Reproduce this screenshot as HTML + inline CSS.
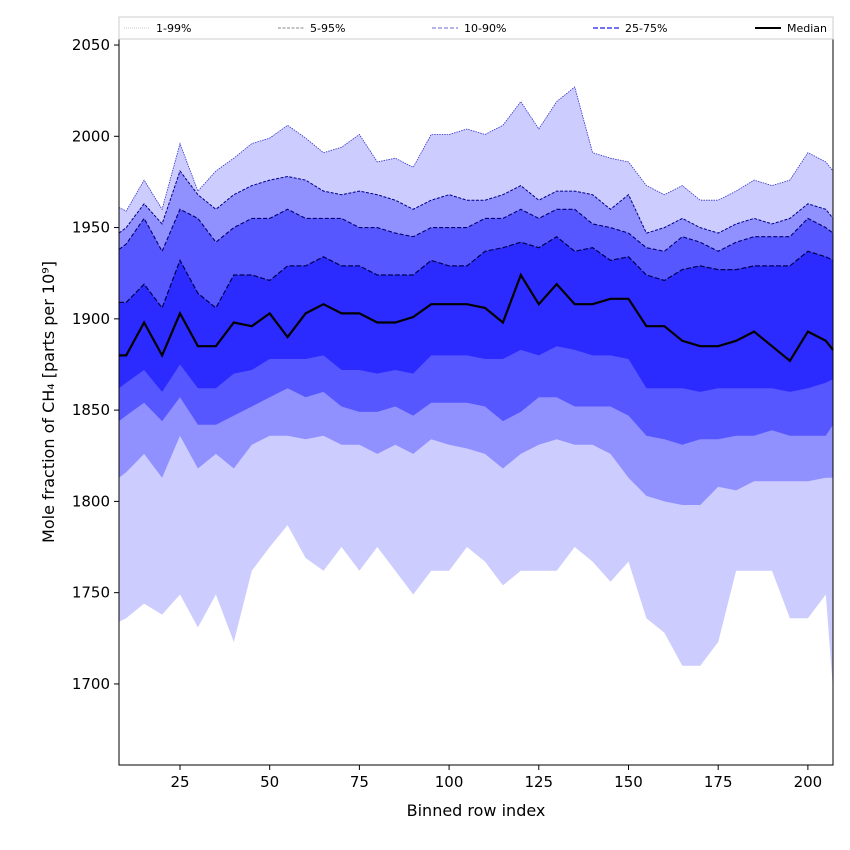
<!DOCTYPE html>
<html><head><meta charset="utf-8">
<style>
html,body{margin:0;padding:0;background:#fff;}
svg{display:block;font-family:"DejaVu Sans","Liberation Sans",sans-serif;}
</style></head>
<body>
<svg id="chart" width="850" height="850" viewBox="0 0 850 850" xmlns="http://www.w3.org/2000/svg">
<g id="bands"></g>
<g id="lines"></g>
<rect x="119" y="39" width="714" height="726" fill="none" stroke="#000" stroke-width="1"/>
<g id="xticks"></g>
<g id="yticks"></g>
<text x="476" y="816" font-size="16" text-anchor="middle">Binned row index</text>
<text transform="translate(54,402) rotate(-90)" font-size="16" text-anchor="middle">Mole fraction of CH₄ [parts per 10⁹]</text>
<g>
<rect x="119" y="17" width="714" height="22" fill="#fff" stroke="#ccc" stroke-width="1"/>
<g><line x1="124" y1="28" x2="150" y2="28" stroke="#c8c8c8" stroke-width="1" stroke-dasharray="1,1"/><text x="156" y="32" font-size="11">1-99%</text></g>
<g><line x1="278" y1="28" x2="304" y2="28" stroke="#888" stroke-width="1" stroke-dasharray="3,1.5"/><text x="310" y="32" font-size="11">5-95%</text></g>
<g><line x1="432" y1="28" x2="458" y2="28" stroke="#8888dd" stroke-width="1.2" stroke-dasharray="4,2"/><text x="464" y="32" font-size="11">10-90%</text></g>
<g><line x1="593" y1="28" x2="619" y2="28" stroke="#4444ee" stroke-width="1.4" stroke-dasharray="5,2"/><text x="625" y="32" font-size="11">25-75%</text></g>
<g><line x1="755" y1="28" x2="781" y2="28" stroke="#000" stroke-width="2"/><text x="787" y="32" font-size="11">Median</text></g>
</g>
</svg>
<script>
const xs = [8,10,15,20,25,30,35,40,45,50,55,60,65,70,75,80,85,90,95,100,105,110,115,120,125,130,135,140,145,150,155,160,165,170,175,180,185,190,195,200,205,207];
const p99 = [1961,1959,1976,1960,1996,1970,1981,1988,1996,1999,2006,1999,1991,1994,2001,1986,1988,1983,2001,2001,2004,2001,2006,2019,2004,2019,2027,1991,1988,1986,1973,1968,1973,1965,1965,1970,1976,1973,1976,1991,1986,1981];
const p95 = [1947,1950,1963,1952,1981,1968,1960,1968,1973,1976,1978,1976,1970,1968,1970,1968,1965,1960,1965,1968,1965,1965,1968,1973,1965,1970,1970,1968,1960,1968,1947,1950,1955,1950,1947,1952,1955,1952,1955,1963,1960,1955];
const p90 = [1938,1941,1955,1937,1960,1955,1942,1950,1955,1955,1960,1955,1955,1955,1950,1950,1947,1945,1950,1950,1950,1955,1955,1960,1955,1960,1960,1952,1950,1947,1939,1937,1945,1942,1937,1942,1945,1945,1945,1955,1950,1947];
const p75 = [1909,1909,1919,1906,1932,1914,1906,1924,1924,1921,1929,1929,1934,1929,1929,1924,1924,1924,1932,1929,1929,1937,1939,1942,1939,1945,1937,1939,1932,1934,1924,1921,1927,1929,1927,1927,1929,1929,1929,1937,1934,1932];
const median = [1880,1880,1898,1880,1903,1885,1885,1898,1896,1903,1890,1903,1908,1903,1903,1898,1898,1901,1908,1908,1908,1906,1898,1924,1908,1919,1908,1908,1911,1911,1896,1896,1888,1885,1885,1888,1893,1885,1877,1893,1888,1883];
const p25 = [1862,1865,1872,1860,1875,1862,1862,1870,1872,1878,1878,1878,1880,1872,1872,1870,1872,1870,1880,1880,1880,1878,1878,1883,1880,1885,1883,1880,1880,1878,1862,1862,1862,1860,1862,1862,1862,1862,1860,1862,1865,1867];
const p10 = [1844,1847,1854,1844,1857,1842,1842,1847,1852,1857,1862,1857,1860,1852,1849,1849,1852,1847,1854,1854,1854,1852,1844,1849,1857,1857,1852,1852,1852,1847,1836,1834,1831,1834,1834,1836,1836,1839,1836,1836,1836,1842];
const p5 = [1813,1816,1826,1813,1836,1818,1826,1818,1831,1836,1836,1834,1836,1831,1831,1826,1831,1826,1834,1831,1829,1826,1818,1826,1831,1834,1831,1831,1826,1813,1803,1800,1798,1798,1808,1806,1811,1811,1811,1811,1813,1813];
const p1 = [1734,1736,1744,1738,1749,1731,1749,1723,1762,1775,1787,1769,1762,1775,1762,1775,1762,1749,1762,1762,1775,1767,1754,1762,1762,1762,1775,1767,1756,1767,1736,1728,1710,1710,1723,1762,1762,1762,1736,1736,1749,1697];
const xTicks = [25,50,75,100,125,150,175,200];
const yTicks = [1700,1750,1800,1850,1900,1950,2000,2050];

const X0=119, X1=833, Y0=39, Y1=765;
const xMin=8, xMax=207, yMin=1655.6, yMax=2053.3;
function sx(v){return X0+(v-xMin)/(xMax-xMin)*(X1-X0);}
function sy(v){return Y1-(v-yMin)/(yMax-yMin)*(Y1-Y0);}
const NS="http://www.w3.org/2000/svg";

function band(lo,hi,color,name){
  let d="M"+xs.map((x,i)=>sx(x).toFixed(1)+","+sy(hi[i]).toFixed(1)).join("L");
  for(let i=xs.length-1;i>=0;i--) d+="L"+sx(xs[i]).toFixed(1)+","+sy(lo[i]).toFixed(1);
  d+="Z";
  const p=document.createElementNS(NS,"path");
  p.setAttribute("d",d);p.setAttribute("fill",color);
  
  
  document.getElementById("bands").appendChild(p);
}
function line(arr,color,w,dash,name){
  const p=document.createElementNS(NS,"path");
  p.setAttribute("d","M"+xs.map((x,i)=>sx(x).toFixed(1)+","+sy(arr[i]).toFixed(1)).join("L"));
  p.setAttribute("fill","none");p.setAttribute("stroke",color);p.setAttribute("stroke-width",w);
  if(dash)p.setAttribute("stroke-dasharray",dash);
  
  
  document.getElementById("lines").appendChild(p);
}
band(p1,p99,"#ccccff","band-1-99");
band(p5,p95,"#9090ff","band-5-95");
band(p10,p90,"#5757ff","band-10-90");
band(p25,p75,"#2b2bff","band-25-75");
line(p99,"#3333cc",0.8,"1.5,1","line-p99");
line(p95,"#000088",1,"3,1.5","line-p95");
line(p90,"#000070",1.1,"4,2","line-p90");
line(p75,"#000050",1.2,"5,2","line-p75");
line(median,"#000",2.2,null,"median-line");

const xg=document.getElementById("xticks");
xTicks.forEach(t=>{
  const x=sx(t);
  const l=document.createElementNS(NS,"line");
  l.setAttribute("x1",x);l.setAttribute("x2",x);l.setAttribute("y1",Y1);l.setAttribute("y2",Y1+5);l.setAttribute("stroke","#000");
  
  
  xg.appendChild(l);
  const tx=document.createElementNS(NS,"text");
  tx.setAttribute("x",x);tx.setAttribute("y",Y1+22);tx.setAttribute("font-size","15");tx.setAttribute("text-anchor","middle");
  tx.textContent=t;
  
  
  xg.appendChild(tx);
});
const yg=document.getElementById("yticks");
yTicks.forEach(t=>{
  const y=sy(t);
  const l=document.createElementNS(NS,"line");
  l.setAttribute("x1",X0-5);l.setAttribute("x2",X0);l.setAttribute("y1",y);l.setAttribute("y2",y);l.setAttribute("stroke","#000");
  
  
  yg.appendChild(l);
  const tx=document.createElementNS(NS,"text");
  tx.setAttribute("x",X0-9);tx.setAttribute("y",y+5);tx.setAttribute("font-size","15");tx.setAttribute("text-anchor","end");
  tx.textContent=t;
  
  
  yg.appendChild(tx);
});
</script>
</body></html>
